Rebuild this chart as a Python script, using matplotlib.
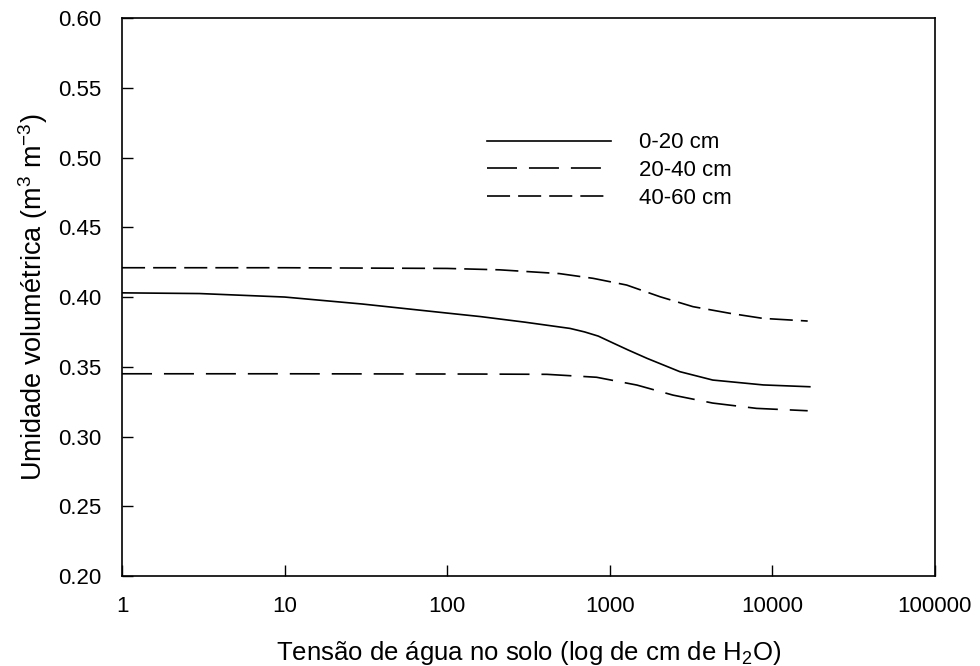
import numpy as np
import matplotlib.pyplot as plt
from matplotlib.ticker import FixedLocator, FixedFormatter, NullLocator

plt.rcParams['font.family'] = ['Liberation Sans', 'DejaVu Sans']
plt.rcParams['mathtext.default'] = 'regular'
plt.rcParams['lines.scale_dashes'] = False

# Tension (cm H2O) and volumetric water content
x_0_20 = [1, 3, 10, 30, 100, 160, 300, 570, 700, 850, 1050, 1300, 1700, 2700, 4300,
          8800, 17000]
y_0_20 = [0.403, 0.4025, 0.400, 0.395, 0.3885, 0.386, 0.382, 0.3775, 0.375, 0.372,
          0.367, 0.362, 0.356, 0.3465, 0.3405, 0.337, 0.3357]

x_20_40 = [1, 10, 160, 410, 830, 1470, 2450, 4300, 8000, 16500]
y_20_40 = [0.345, 0.345, 0.3448, 0.3446, 0.3425, 0.3369, 0.3297, 0.324, 0.3202, 0.3185]

x_40_60 = [1, 10, 100, 210, 490, 790, 1270, 2040, 3250, 5500, 8750, 16500]
y_40_60 = [0.421, 0.421, 0.4205, 0.4195, 0.4168, 0.4134, 0.4086, 0.4002, 0.3931,
           0.3883, 0.3847, 0.3828]

xticks = [1, 10, 100, 1000, 10000, 100000]
xtick_labels = ['1', '10', '100', '1000', '10000', '100000']
yticks = [0.20, 0.25, 0.30, 0.35, 0.40, 0.45, 0.50, 0.55, 0.60]

fig = plt.figure(figsize=(9.8, 6.66), dpi=100)
ax = fig.add_axes([0.1245, 0.135, 0.8295, 0.838])

lw = 1.2
ax.plot(x_0_20, y_0_20, color='black', lw=lw, label='0-20 cm')
ax.plot(x_20_40, y_20_40, color='black', lw=lw, dashes=(21.6, 8.6), label='20-40 cm')
ax.plot(x_40_60, y_40_60, color='black', lw=lw, dashes=(16.6, 5.8), label='40-60 cm')

ax.set_xscale('log')
ax.set_xlim(1, 100000)
ax.set_ylim(0.20, 0.60)
ax.xaxis.set_major_locator(FixedLocator(xticks))
ax.xaxis.set_major_formatter(FixedFormatter(xtick_labels))
ax.xaxis.set_minor_locator(NullLocator())
ax.set_yticks(yticks)
ax.set_yticklabels([f'{v:.2f}' for v in yticks])
ax.tick_params(direction='in', length=8, width=1, labelsize=16)
ax.tick_params(axis='x', pad=14)
ax.tick_params(axis='y', pad=15)

for s in ax.spines.values():
    s.set_linewidth(1.2)

ax.set_xlabel('Tensão de água no solo (log de cm de H$_2$O)', fontsize=18.5, labelpad=16)
ax.set_ylabel('Umidade volumétrica (m$^3$ m$^{-3}$)', fontsize=19.5, labelpad=6)

ax.legend(loc='upper left', bbox_to_anchor=(0.449, 0.795), frameon=False, fontsize=16,
          handlelength=5.6, handletextpad=1.25, labelspacing=0.3, borderpad=0,
          borderaxespad=0)

fig.savefig('out.png', dpi=100)
